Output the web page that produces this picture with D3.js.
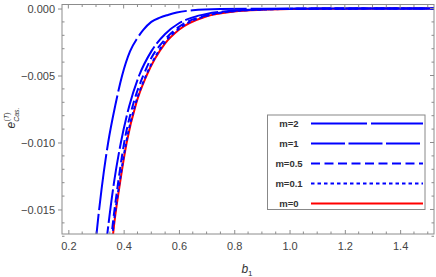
<!DOCTYPE html>
<html>
<head>
<meta charset="utf-8">
<script src="https://cdn.jsdelivr.net/npm/d3@7"></script>
<style>
  body { margin: 0; background: #fff; }
  svg { display: block; font-family: "Liberation Sans", Arial, sans-serif; }
</style>
</head>
<body>
<div id="chart"></div>
<script>
// series: b1 values and energies
var seriesNames = ["m=2", "m=1", "m=0.5", "m=0.1", "m=0"];

var bM2 = [0.29, 0.302, 0.32, 0.344, 0.37, 0.3945, 0.423, 0.45, 0.471, 0.50, 0.531, 0.56, 0.592, 0.65, 0.75, 0.9, 1.1, 1.53];
var eM2 = [-0.0195, -0.0168, -0.0135, -0.0100, -0.0072, -0.0050, -0.0032, -0.0022, -0.0016, -0.0010, -0.00068, -0.00048, -0.00030, -0.00013, -0.00004, -0.00001, 0, 0];

var bM1 = [0.33, 0.341, 0.365, 0.39, 0.42, 0.456, 0.50, 0.55, 0.60, 0.65, 0.70, 0.80, 0.90, 1.0, 1.2, 1.53];
var eM1 = [-0.0188, -0.0168, -0.0130, -0.0100, -0.0073, -0.0050, -0.0032, -0.0019, -0.0011, -0.00066, -0.00040, -0.00015, -0.00006, -0.00002, 0, 0];

var bM05 = [0.345, 0.357, 0.38, 0.402, 0.435, 0.471, 0.50, 0.55, 0.60, 0.70, 0.80, 0.90, 1.0, 1.2, 1.53];
var eM05 = [-0.0195, -0.0168, -0.0130, -0.0100, -0.0071, -0.0050, -0.0037, -0.0023, -0.00137, -0.00050, -0.00018, -0.00007, -0.00003, 0, 0];

var bM01 = [0.348, 0.360, 0.385, 0.409, 0.443, 0.481, 0.55, 0.60, 0.70, 0.80, 0.90, 1.0, 1.2, 1.53];
var eM01 = [-0.0195, -0.0168, -0.0130, -0.0100, -0.0071, -0.0050, -0.0025, -0.0015, -0.00055, -0.00020, -0.00008, -0.00003, -0.00001, 0];

var bM0 = [0.350, 0.362, 0.387, 0.411, 0.445, 0.483, 0.55, 0.60, 0.70, 0.80, 0.90, 1.0, 1.2, 1.53];
var eM0 = [-0.0195, -0.0168, -0.0130, -0.0100, -0.0071, -0.0050, -0.0026, -0.00158, -0.00058, -0.00022, -0.00009, -0.00004, -0.00001, 0];

var xTicks = [0.2, 0.4, 0.6, 0.8, 1.0, 1.2, 1.4];
var yTicks = [0, -0.005, -0.010, -0.015];

var fullWidth = 436;
var fullHeight = 277;
var plotLeft = 62, plotRight = 434, plotTop = 4.5, plotBottom = 234;

var styles = {
  "m=2":   { color: "#0000ff", dash: "56,4" },
  "m=1":   { color: "#0000ff", dash: "34,3.5" },
  "m=0.5": { color: "#0000ff", dash: "9,4.5" },
  "m=0.1": { color: "#0000ff", dash: "3.5,3" },
  "m=0":   { color: "#ff0000", dash: null }
};

var data = [
  { name: "m=0", b: bM0, e: eM0 },
  { name: "m=2", b: bM2, e: eM2 },
  { name: "m=1", b: bM1, e: eM1 },
  { name: "m=0.5", b: bM05, e: eM05 },
  { name: "m=0.1", b: bM01, e: eM01 }
];

var svg = d3.select("#chart").append("svg")
  .attr("width", fullWidth)
  .attr("height", fullHeight);

var x = d3.scaleLinear().domain([0.177, 1.5225]).range([plotLeft, plotRight]);
var y = d3.scaleLinear().domain([-0.01683, 0.0003]).range([plotBottom, plotTop]);

svg.append("clipPath").attr("id", "clip")
  .append("rect")
  .attr("x", plotLeft).attr("y", plotTop)
  .attr("width", plotRight - plotLeft).attr("height", plotBottom - plotTop);

// curves
var line = d3.line()
  .x(function(d) { return x(d[0]); })
  .y(function(d) { return y(d[1]); })
  .curve(d3.curveMonotoneX);

var curves = svg.append("g").attr("clip-path", "url(#clip)");
data.forEach(function(s) {
  var pts = s.b.map(function(v, i) { return [v, s.e[i]]; });
  curves.append("path")
    .attr("d", line(pts))
    .attr("fill", "none")
    .attr("stroke", styles[s.name].color)
    .attr("stroke-width", 2)
    .attr("stroke-dasharray", styles[s.name].dash);
});

// frame with ticks on all sides
var frameColor = "#8c8c8c";
var xMinor = d3.range(0.2, 1.5001, 0.05);
var yMinor = d3.range(0, -0.0171, -0.001);

var axisBottom = d3.axisBottom(x).tickValues(xTicks).tickSize(-4).tickPadding(8)
  .tickFormat(d3.format(".1f"));
var gB = svg.append("g").attr("transform", "translate(0," + plotBottom + ")").call(axisBottom);
var axisLeft = d3.axisLeft(y).tickValues(yTicks).tickSize(4).tickPadding(3)
  .tickFormat(function(d) { return d === 0 ? "0.000" : d3.format(".3f")(d).replace("-", "\u2212"); });
var gL = svg.append("g").attr("transform", "translate(" + plotLeft + ",0)").call(axisLeft);

[gB, gL].forEach(function(g) {
  g.select(".domain").remove();
  g.selectAll("line").attr("stroke", frameColor);
  g.selectAll("text").attr("fill", "#444").style("font-size", "11px");
});

var ticks = svg.append("g").attr("stroke", frameColor).attr("stroke-width", 1);
xMinor.forEach(function(v, i) {
  var major = i % 4 === 0;
  var len = major ? 4 : 2.5;
  ticks.append("line").attr("x1", x(v)).attr("x2", x(v)).attr("y1", plotTop).attr("y2", plotTop + len);
  if (!major) ticks.append("line").attr("x1", x(v)).attr("x2", x(v)).attr("y1", plotBottom).attr("y2", plotBottom - len);
});
yMinor.forEach(function(v, i) {
  var major = i % 5 === 0;
  var len = major ? 4 : 2.5;
  ticks.append("line").attr("y1", y(v)).attr("y2", y(v)).attr("x1", plotRight).attr("x2", plotRight - len);
  if (!major) ticks.append("line").attr("y1", y(v)).attr("y2", y(v)).attr("x1", plotLeft).attr("x2", plotLeft + len);
});

svg.append("rect")
  .attr("x", plotLeft).attr("y", plotTop)
  .attr("width", plotRight - plotLeft).attr("height", plotBottom - plotTop)
  .attr("fill", "none").attr("stroke", frameColor).attr("stroke-width", 1);

// axis labels
var xl = svg.append("text").attr("x", 247).attr("y", 273)
  .attr("text-anchor", "middle").attr("fill", "#333").style("font-size", "12px");
xl.append("tspan").style("font-style", "italic").text("b");
xl.append("tspan").attr("dy", 3).style("font-size", "8px").text("1");

var yl = svg.append("text").attr("transform", "translate(15,118) rotate(-90)")
  .attr("text-anchor", "middle").attr("fill", "#333").style("font-size", "12px");
yl.append("tspan").style("font-style", "italic").text("e");
yl.append("tspan").attr("dy", 4).style("font-size", "7px").style("font-style", "italic").text("Cas.");
yl.append("tspan").attr("dx", -14).attr("dy", -10).style("font-size", "7px").text("(");
yl.append("tspan").style("font-size", "7px").style("font-style", "italic").text("T");
yl.append("tspan").style("font-size", "7px").text(")");

// legend
var legend = svg.append("g");
legend.append("rect")
  .attr("x", 267.5).attr("y", 115)
  .attr("width", 157.5).attr("height", 94.5)
  .attr("fill", "#fff").attr("stroke", "#888").attr("stroke-width", 1);

seriesNames.forEach(function(name, i) {
  var ry = 123.5 + i * 20;
  legend.append("text")
    .attr("x", 289).attr("y", ry + 3.5)
    .attr("text-anchor", "middle")
    .attr("fill", "#333")
    .style("font-size", "9.5px").style("font-weight", "bold")
    .text(name);
  legend.append("line")
    .attr("x1", 311).attr("x2", 423)
    .attr("y1", ry).attr("y2", ry)
    .attr("stroke", styles[name].color)
    .attr("stroke-width", 2)
    .attr("stroke-dasharray", styles[name].dash);
});
</script>
</body>
</html>
